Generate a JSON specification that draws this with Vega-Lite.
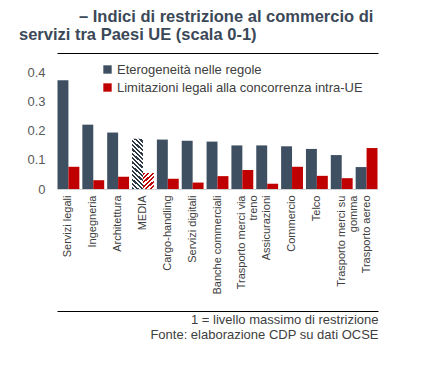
{
  "$schema": "https://vega.github.io/schema/vega-lite/v6.json",
  "autosize": "none",
  "width": 321,
  "height": 117,
  "padding": {"left": 57, "top": 72, "right": 45, "bottom": 178},
  "background": "white",
  "config": {"view": {"stroke": null}, "font": "Liberation Sans"},
  "title": {
    "text": ["\u2800\u2800\u2800\u2800\u2800– Indici di restrizione al commercio di", "servizi tra Paesi UE (scala 0-1)"],
    "anchor": "start",
    "frame": "group",
    "dx": -38,
    "font": "Liberation Sans",
    "fontSize": 16.5,
    "fontWeight": "bold",
    "color": "#3b4858",
    "lineHeight": 18,
    "offset": 5
  },
  "data": {"values": [
    {"cat": "Servizi legali", "series": "Eterogeneità nelle regole", "value": 0.372},
    {"cat": "Servizi legali", "series": "Limitazioni legali alla concorrenza intra-UE", "value": 0.076},
    {"cat": "Ingegneria", "series": "Eterogeneità nelle regole", "value": 0.22},
    {"cat": "Ingegneria", "series": "Limitazioni legali alla concorrenza intra-UE", "value": 0.03},
    {"cat": "Architettura", "series": "Eterogeneità nelle regole", "value": 0.193},
    {"cat": "Architettura", "series": "Limitazioni legali alla concorrenza intra-UE", "value": 0.042},
    {"cat": "MEDIA", "series": "Eterogeneità nelle regole", "value": 0.172},
    {"cat": "MEDIA", "series": "Limitazioni legali alla concorrenza intra-UE", "value": 0.055},
    {"cat": "Cargo-handling", "series": "Eterogeneità nelle regole", "value": 0.169},
    {"cat": "Cargo-handling", "series": "Limitazioni legali alla concorrenza intra-UE", "value": 0.035},
    {"cat": "Servizi digitali", "series": "Eterogeneità nelle regole", "value": 0.165},
    {"cat": "Servizi digitali", "series": "Limitazioni legali alla concorrenza intra-UE", "value": 0.022},
    {"cat": "Banche commerciali", "series": "Eterogeneità nelle regole", "value": 0.162},
    {"cat": "Banche commerciali", "series": "Limitazioni legali alla concorrenza intra-UE", "value": 0.044},
    {"cat": "Trasporto merci via|treno", "series": "Eterogeneità nelle regole", "value": 0.149},
    {"cat": "Trasporto merci via|treno", "series": "Limitazioni legali alla concorrenza intra-UE", "value": 0.065},
    {"cat": "Assicurazioni", "series": "Eterogeneità nelle regole", "value": 0.149},
    {"cat": "Assicurazioni", "series": "Limitazioni legali alla concorrenza intra-UE", "value": 0.018},
    {"cat": "Commercio", "series": "Eterogeneità nelle regole", "value": 0.146},
    {"cat": "Commercio", "series": "Limitazioni legali alla concorrenza intra-UE", "value": 0.076},
    {"cat": "Telco", "series": "Eterogeneità nelle regole", "value": 0.137},
    {"cat": "Telco", "series": "Limitazioni legali alla concorrenza intra-UE", "value": 0.045},
    {"cat": "Trasporto merci su|gomma", "series": "Eterogeneità nelle regole", "value": 0.116},
    {"cat": "Trasporto merci su|gomma", "series": "Limitazioni legali alla concorrenza intra-UE", "value": 0.037},
    {"cat": "Trasporto aereo", "series": "Eterogeneità nelle regole", "value": 0.075},
    {"cat": "Trasporto aereo", "series": "Limitazioni legali alla concorrenza intra-UE", "value": 0.14}
  ]},
  "encoding": {
    "y": {
      "field": "value", "type": "quantitative",
      "scale": {"domain": [0, 0.4], "nice": false},
      "axis": {"title": null, "values": [0, 0.1, 0.2, 0.3, 0.4], "format": ".1~f", "grid": false, "domain": false, "ticks": false, "labelFontSize": 13, "labelColor": "#595959", "labelPadding": 12, "labelFont": "Liberation Sans"}
    },
    "xOffset": {"field": "series", "type": "nominal", "scale": {"paddingInner": 0, "paddingOuter": 0}}
  },
  "layer": [
    {
      "transform": [{"filter": "datum.cat !== 'MEDIA'"}],
      "mark": {"type": "bar"},
      "encoding": {
        "x": {
          "field": "cat", "type": "nominal",
          "sort": ["Servizi legali", "Ingegneria", "Architettura", "MEDIA", "Cargo-handling", "Servizi digitali", "Banche commerciali", "Trasporto merci via|treno", "Assicurazioni", "Commercio", "Telco", "Trasporto merci su|gomma", "Trasporto aereo"],
          "scale": {"paddingInner": 0.12, "paddingOuter": 0.02},
          "axis": {"orient": "bottom", "title": null, "labelAngle": -90, "labelExpr": "split(datum.label, '|')", "labelFontSize": 11, "labelColor": "#404040", "labelFont": "Liberation Sans", "labelLineHeight": 12, "ticks": false, "labelPadding": 6, "domainColor": "#d0d0d0", "domainWidth": 1}
        },
        "color": {
          "field": "series", "type": "nominal",
          "scale": {"domain": ["Eterogeneità nelle regole", "Limitazioni legali alla concorrenza intra-UE"], "range": ["#3e4f62", "#c00000"]},
          "legend": {"title": null, "orient": "none", "legendX": 44, "legendY": -9, "symbolType": "square", "symbolSize": 70, "symbolStrokeWidth": 0, "labelFontSize": 13, "labelColor": "#404040", "labelFont": "Liberation Sans", "labelLimit": 0, "rowPadding": 4, "symbolOffset": 0, "labelOffset": 3}
        }
      }
    },
    {
      "transform": [{"filter": "datum.cat === 'MEDIA' && datum.series === 'Eterogeneità nelle regole'"}],
      "mark": {"type": "bar", "fill": {"gradient": "linear", "x1": 0, "y1": 1, "x2": 0.2308, "y2": -0.154, "stops": [
        {"offset": 0, "color": "#2c3845"}, {"offset": 0.0357, "color": "#2c3845"}, {"offset": 0.0357, "color": "#ffffff"}, {"offset": 0.0714, "color": "#ffffff"},
        {"offset": 0.0714, "color": "#2c3845"}, {"offset": 0.1071, "color": "#2c3845"}, {"offset": 0.1071, "color": "#ffffff"}, {"offset": 0.1429, "color": "#ffffff"},
        {"offset": 0.1429, "color": "#2c3845"}, {"offset": 0.1786, "color": "#2c3845"}, {"offset": 0.1786, "color": "#ffffff"}, {"offset": 0.2143, "color": "#ffffff"},
        {"offset": 0.2143, "color": "#2c3845"}, {"offset": 0.25, "color": "#2c3845"}, {"offset": 0.25, "color": "#ffffff"}, {"offset": 0.2857, "color": "#ffffff"},
        {"offset": 0.2857, "color": "#2c3845"}, {"offset": 0.3214, "color": "#2c3845"}, {"offset": 0.3214, "color": "#ffffff"}, {"offset": 0.3571, "color": "#ffffff"},
        {"offset": 0.3571, "color": "#2c3845"}, {"offset": 0.3929, "color": "#2c3845"}, {"offset": 0.3929, "color": "#ffffff"}, {"offset": 0.4286, "color": "#ffffff"},
        {"offset": 0.4286, "color": "#2c3845"}, {"offset": 0.4643, "color": "#2c3845"}, {"offset": 0.4643, "color": "#ffffff"}, {"offset": 0.5, "color": "#ffffff"},
        {"offset": 0.5, "color": "#2c3845"}, {"offset": 0.5357, "color": "#2c3845"}, {"offset": 0.5357, "color": "#ffffff"}, {"offset": 0.5714, "color": "#ffffff"},
        {"offset": 0.5714, "color": "#2c3845"}, {"offset": 0.6071, "color": "#2c3845"}, {"offset": 0.6071, "color": "#ffffff"}, {"offset": 0.6429, "color": "#ffffff"},
        {"offset": 0.6429, "color": "#2c3845"}, {"offset": 0.6786, "color": "#2c3845"}, {"offset": 0.6786, "color": "#ffffff"}, {"offset": 0.7143, "color": "#ffffff"},
        {"offset": 0.7143, "color": "#2c3845"}, {"offset": 0.75, "color": "#2c3845"}, {"offset": 0.75, "color": "#ffffff"}, {"offset": 0.7857, "color": "#ffffff"},
        {"offset": 0.7857, "color": "#2c3845"}, {"offset": 0.8214, "color": "#2c3845"}, {"offset": 0.8214, "color": "#ffffff"}, {"offset": 0.8571, "color": "#ffffff"},
        {"offset": 0.8571, "color": "#2c3845"}, {"offset": 0.8929, "color": "#2c3845"}, {"offset": 0.8929, "color": "#ffffff"}, {"offset": 0.9286, "color": "#ffffff"},
        {"offset": 0.9286, "color": "#2c3845"}, {"offset": 0.9643, "color": "#2c3845"}, {"offset": 0.9643, "color": "#ffffff"}, {"offset": 1, "color": "#ffffff"}
      ]}},
      "encoding": {
        "x": {
          "field": "cat", "type": "nominal",
          "sort": ["Servizi legali", "Ingegneria", "Architettura", "MEDIA", "Cargo-handling", "Servizi digitali", "Banche commerciali", "Trasporto merci via|treno", "Assicurazioni", "Commercio", "Telco", "Trasporto merci su|gomma", "Trasporto aereo"],
          "axis": {"orient": "top", "offset": 19, "title": "\u2800", "titleFontSize": 1, "titleColor": "#ffffff", "domain": true, "labels": false, "ticks": false, "domainColor": "#000000", "domainWidth": 1.2}
        }
      }
    },
    {
      "transform": [{"filter": "datum.cat === 'MEDIA' && datum.series !== 'Eterogeneità nelle regole'"}],
      "mark": {"type": "bar", "fill": {"gradient": "linear", "x1": 0, "y1": 0, "x2": 0.73, "y2": 1.168, "stops": [
        {"offset": 0, "color": "#c00000"}, {"offset": 0.0833, "color": "#c00000"}, {"offset": 0.0833, "color": "#ffffff"}, {"offset": 0.1667, "color": "#ffffff"},
        {"offset": 0.1667, "color": "#c00000"}, {"offset": 0.25, "color": "#c00000"}, {"offset": 0.25, "color": "#ffffff"}, {"offset": 0.3333, "color": "#ffffff"},
        {"offset": 0.3333, "color": "#c00000"}, {"offset": 0.4167, "color": "#c00000"}, {"offset": 0.4167, "color": "#ffffff"}, {"offset": 0.5, "color": "#ffffff"},
        {"offset": 0.5, "color": "#c00000"}, {"offset": 0.5833, "color": "#c00000"}, {"offset": 0.5833, "color": "#ffffff"}, {"offset": 0.6667, "color": "#ffffff"},
        {"offset": 0.6667, "color": "#c00000"}, {"offset": 0.75, "color": "#c00000"}, {"offset": 0.75, "color": "#ffffff"}, {"offset": 0.8333, "color": "#ffffff"},
        {"offset": 0.8333, "color": "#c00000"}, {"offset": 0.9167, "color": "#c00000"}, {"offset": 0.9167, "color": "#ffffff"}, {"offset": 1, "color": "#ffffff"}
      ]}},
      "encoding": {
        "x": {
          "field": "cat", "type": "nominal",
          "sort": ["Servizi legali", "Ingegneria", "Architettura", "MEDIA", "Cargo-handling", "Servizi digitali", "Banche commerciali", "Trasporto merci via|treno", "Assicurazioni", "Commercio", "Telco", "Trasporto merci su|gomma", "Trasporto aereo"],
          "axis": {"orient": "bottom", "offset": 122, "labels": false, "ticks": false, "domainColor": "#000000", "domainWidth": 1,
            "title": ["1 = livello massimo di restrizione", "Fonte: elaborazione CDP su dati OCSE"],
            "titleAnchor": "end", "titleAlign": "right", "titleFont": "Liberation Sans", "titleFontSize": 13, "titleFontWeight": "normal", "titleColor": "#404040", "titleLineHeight": 15, "titlePadding": 2}
        }
      }
    }
  ],
  "resolve": {"axis": {"x": "independent"}}
}
